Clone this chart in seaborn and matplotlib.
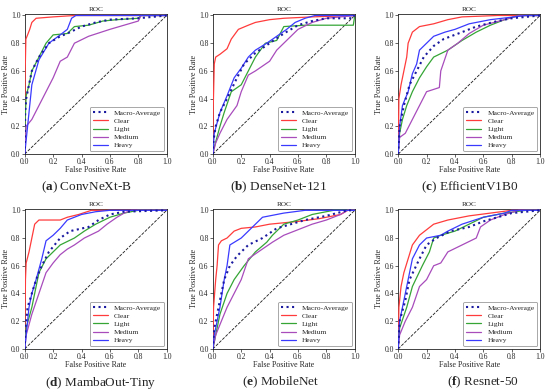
import numpy as np
import matplotlib
matplotlib.use("Agg")
import matplotlib.pyplot as plt
import seaborn as sns

# --- ROC points: (FPR, TPR) ---
classes = ["Macro-Average", "Clear", "Light", "Medium", "Heavy"]
models = ["ConvNeXt-B", "DenseNet-121", "EfficientV1B0", "MambaOut-Tiny", "MobileNet", "Resnet-50"]
letters = ["a", "b", "c", "d", "e", "f"]

a_macro = [(0, 0), (0.003, 0.3), (0.01, 0.4), (0.03, 0.5), (0.05, 0.6), (0.1, 0.7), (0.17, 0.8), (0.25, 0.85), (0.3, 0.87), (0.4, 0.92), (0.5, 0.95), (0.6, 0.97), (0.8, 0.98), (1, 1)]
a_clear = [(0, 0), (0.003, 0.6), (0.008, 0.83), (0.02, 0.86), (0.035, 0.9), (0.05, 0.95), (0.08, 0.98), (0.2, 0.99), (0.35, 1.0), (1, 1)]
a_light = [(0, 0), (0.003, 0.25), (0.01, 0.42), (0.03, 0.5), (0.05, 0.6), (0.1, 0.7), (0.15, 0.8), (0.2, 0.86), (0.3, 0.87), (0.35, 0.92), (0.45, 0.93), (0.55, 0.96), (0.65, 0.97), (0.8, 0.98), (0.82, 1.0), (1, 1)]
a_medium = [(0, 0), (0.01, 0.2), (0.05, 0.25), (0.1, 0.35), (0.15, 0.45), (0.2, 0.55), (0.25, 0.67), (0.3, 0.7), (0.35, 0.8), (0.45, 0.85), (0.6, 0.9), (0.7, 0.93), (0.8, 0.96), (0.82, 1.0), (1, 1)]
a_heavy = [(0, 0), (0.01, 0.1), (0.03, 0.3), (0.05, 0.5), (0.1, 0.68), (0.17, 0.8), (0.25, 0.86), (0.3, 0.9), (0.33, 0.98), (0.36, 1.0), (1, 1)]

b_macro = [(0, 0), (0.005, 0.1), (0.02, 0.2), (0.05, 0.3), (0.1, 0.4), (0.17, 0.55), (0.22, 0.65), (0.3, 0.73), (0.4, 0.8), (0.5, 0.87), (0.6, 0.93), (0.7, 0.96), (0.8, 0.98), (0.98, 0.98), (1, 1)]
b_clear = [(0, 0), (0.003, 0.35), (0.01, 0.65), (0.02, 0.7), (0.05, 0.72), (0.1, 0.76), (0.13, 0.83), (0.18, 0.9), (0.25, 0.93), (0.3, 0.95), (0.4, 0.97), (0.5, 0.98), (0.7, 0.99), (1, 1)]
b_light = [(0, 0), (0.01, 0.05), (0.05, 0.2), (0.08, 0.3), (0.13, 0.45), (0.2, 0.5), (0.25, 0.6), (0.3, 0.7), (0.37, 0.8), (0.45, 0.82), (0.5, 0.92), (0.65, 0.93), (0.99, 0.93), (1, 1)]
b_medium = [(0, 0), (0.02, 0.08), (0.05, 0.15), (0.1, 0.25), (0.17, 0.35), (0.2, 0.45), (0.25, 0.57), (0.3, 0.6), (0.4, 0.67), (0.45, 0.75), (0.5, 0.8), (0.55, 0.85), (0.6, 0.9), (0.7, 0.95), (0.8, 0.98), (1, 1)]
b_heavy = [(0, 0), (0.01, 0.15), (0.05, 0.3), (0.1, 0.42), (0.15, 0.55), (0.2, 0.62), (0.25, 0.7), (0.3, 0.75), (0.38, 0.8), (0.45, 0.85), (0.52, 0.9), (0.58, 0.95), (0.65, 0.98), (0.72, 1.0), (1, 1)]

c_macro = [(0, 0), (0.01, 0.2), (0.04, 0.35), (0.08, 0.5), (0.13, 0.6), (0.18, 0.7), (0.25, 0.78), (0.32, 0.83), (0.45, 0.88), (0.55, 0.92), (0.7, 0.96), (0.8, 0.98), (1, 1)]
c_clear = [(0, 0), (0.005, 0.4), (0.02, 0.5), (0.04, 0.6), (0.06, 0.7), (0.07, 0.8), (0.1, 0.88), (0.15, 0.92), (0.25, 0.94), (0.35, 0.97), (0.45, 0.99), (0.7, 1.0), (1, 1)]
c_light = [(0, 0), (0.01, 0.15), (0.03, 0.25), (0.06, 0.35), (0.1, 0.45), (0.15, 0.55), (0.2, 0.63), (0.25, 0.7), (0.35, 0.75), (0.45, 0.82), (0.55, 0.88), (0.65, 0.93), (0.75, 0.97), (0.85, 1.0), (1, 1)]
c_medium = [(0, 0), (0.01, 0.12), (0.05, 0.15), (0.1, 0.25), (0.15, 0.35), (0.2, 0.45), (0.29, 0.48), (0.3, 0.6), (0.35, 0.75), (0.42, 0.8), (0.5, 0.87), (0.6, 0.93), (0.75, 0.97), (0.85, 1.0), (1, 1)]
c_heavy = [(0, 0), (0.01, 0.2), (0.03, 0.35), (0.07, 0.45), (0.1, 0.58), (0.13, 0.65), (0.15, 0.75), (0.2, 0.8), (0.25, 0.85), (0.33, 0.88), (0.4, 0.9), (0.5, 0.94), (0.65, 0.97), (0.9, 1.0), (1, 1)]

d_macro = [(0, 0), (0.005, 0.15), (0.02, 0.3), (0.05, 0.4), (0.08, 0.5), (0.12, 0.6), (0.17, 0.7), (0.25, 0.8), (0.32, 0.85), (0.45, 0.88), (0.52, 0.93), (0.6, 0.97), (0.7, 0.99), (1, 1)]
d_clear = [(0, 0), (0.005, 0.5), (0.01, 0.62), (0.03, 0.7), (0.05, 0.8), (0.07, 0.9), (0.1, 0.93), (0.25, 0.93), (0.3, 0.95), (0.38, 0.97), (0.47, 1.0), (1, 1)]
d_light = [(0, 0), (0.01, 0.15), (0.05, 0.3), (0.08, 0.45), (0.1, 0.55), (0.15, 0.65), (0.2, 0.7), (0.25, 0.75), (0.35, 0.8), (0.42, 0.85), (0.5, 0.9), (0.6, 0.95), (0.7, 0.98), (0.8, 1.0), (1, 1)]
d_medium = [(0, 0), (0.01, 0.1), (0.05, 0.25), (0.1, 0.4), (0.15, 0.55), (0.2, 0.62), (0.25, 0.68), (0.3, 0.72), (0.35, 0.75), (0.42, 0.8), (0.52, 0.85), (0.58, 0.9), (0.65, 0.95), (0.7, 0.98), (0.75, 1.0), (1, 1)]
d_heavy = [(0, 0), (0.01, 0.1), (0.03, 0.3), (0.05, 0.4), (0.08, 0.5), (0.12, 0.65), (0.15, 0.78), (0.2, 0.82), (0.25, 0.87), (0.3, 0.93), (0.4, 0.97), (0.5, 0.99), (0.6, 1.0), (1, 1)]

e_macro = [(0, 0), (0.01, 0.15), (0.04, 0.3), (0.08, 0.5), (0.12, 0.6), (0.17, 0.67), (0.25, 0.75), (0.35, 0.8), (0.45, 0.87), (0.55, 0.9), (0.65, 0.93), (0.8, 0.96), (0.95, 1.0), (1, 1)]
e_clear = [(0, 0), (0.005, 0.3), (0.02, 0.5), (0.03, 0.6), (0.04, 0.75), (0.06, 0.78), (0.1, 0.8), (0.15, 0.85), (0.2, 0.87), (0.3, 0.88), (0.4, 0.9), (0.5, 0.91), (0.6, 0.92), (0.75, 0.94), (0.9, 0.97), (0.95, 1.0), (1, 1)]
e_light = [(0, 0), (0.02, 0.1), (0.05, 0.25), (0.1, 0.4), (0.15, 0.5), (0.22, 0.6), (0.3, 0.7), (0.38, 0.77), (0.42, 0.82), (0.5, 0.9), (0.6, 0.93), (0.7, 0.97), (0.85, 1.0), (1, 1)]
e_medium = [(0, 0), (0.02, 0.1), (0.06, 0.2), (0.1, 0.3), (0.15, 0.4), (0.2, 0.5), (0.25, 0.65), (0.32, 0.7), (0.42, 0.77), (0.5, 0.82), (0.6, 0.86), (0.7, 0.9), (0.8, 0.93), (0.9, 0.97), (0.95, 1.0), (1, 1)]
e_heavy = [(0, 0), (0.01, 0.1), (0.05, 0.3), (0.08, 0.5), (0.1, 0.6), (0.12, 0.75), (0.2, 0.8), (0.25, 0.85), (0.3, 0.9), (0.35, 0.95), (0.5, 0.98), (0.65, 1.0), (1, 1)]

f_macro = [(0, 0), (0.01, 0.2), (0.05, 0.35), (0.08, 0.5), (0.15, 0.65), (0.2, 0.75), (0.27, 0.8), (0.37, 0.85), (0.5, 0.88), (0.6, 0.92), (0.7, 0.95), (0.8, 0.98), (1, 1)]
f_clear = [(0, 0), (0.005, 0.3), (0.02, 0.45), (0.04, 0.55), (0.07, 0.65), (0.1, 0.75), (0.15, 0.82), (0.2, 0.86), (0.25, 0.9), (0.35, 0.93), (0.5, 0.96), (0.65, 0.98), (0.8, 1.0), (1, 1)]
f_light = [(0, 0), (0.01, 0.15), (0.06, 0.3), (0.1, 0.45), (0.17, 0.6), (0.22, 0.7), (0.25, 0.8), (0.3, 0.82), (0.4, 0.85), (0.5, 0.9), (0.6, 0.95), (0.75, 0.98), (0.9, 1.0), (1, 1)]
f_medium = [(0, 0), (0.01, 0.1), (0.05, 0.2), (0.1, 0.3), (0.15, 0.45), (0.2, 0.5), (0.25, 0.6), (0.3, 0.62), (0.35, 0.7), (0.45, 0.75), (0.55, 0.8), (0.58, 0.88), (0.65, 0.93), (0.75, 0.97), (0.85, 1.0), (1, 1)]
f_heavy = [(0, 0), (0.01, 0.2), (0.05, 0.4), (0.08, 0.55), (0.1, 0.65), (0.15, 0.75), (0.2, 0.8), (0.3, 0.82), (0.35, 0.85), (0.45, 0.9), (0.6, 0.95), (0.75, 0.98), (0.8, 1.0), (1, 1)]

curves = [
    [a_macro, a_clear, a_light, a_medium, a_heavy],
    [b_macro, b_clear, b_light, b_medium, b_heavy],
    [c_macro, c_clear, c_light, c_medium, c_heavy],
    [d_macro, d_clear, d_light, d_medium, d_heavy],
    [e_macro, e_clear, e_light, e_medium, e_heavy],
    [f_macro, f_clear, f_light, f_medium, f_heavy],
]

# --- styling ---
sns.set_theme(style="white")
plt.rcParams["font.family"] = ["Liberation Serif", "DejaVu Serif"]
plt.rcParams["mathtext.fontset"] = "custom"
plt.rcParams["mathtext.bf"] = "Liberation Serif:bold"
plt.rcParams["mathtext.rm"] = "Liberation Serif"

colors = ["#1a1aa0", "#ff3b3b", "#35a535", "#a84cbc", "#3a3aff"]
styles = [":", "-", "-", "-", "-"]
widths = [1.5, 0.9, 0.9, 0.9, 0.9]

fig = plt.figure(figsize=(5.5, 3.92), dpi=100)

# axes boxes in figure fractions
lefts = [0.045, 0.387, 0.724]
bottoms = [0.607, 0.110]
cap_x = [0.157, 0.506, 0.855, 0.182, 0.511, 0.878]
cap_y = [0.523, 0.523, 0.523, 0.024, 0.024, 0.024]

for i, (model, letter) in enumerate(zip(models, letters)):
    ax = fig.add_axes([lefts[i % 3], bottoms[i // 3], 0.258, 0.357])
    ax.plot([0, 1], [0, 1], "k--", lw=0.6)
    for j, cls in enumerate(classes):
        pts = np.array(curves[i][j])
        sns.lineplot(x=pts[:, 0], y=pts[:, 1], ax=ax, sort=False, estimator=None,
                     color=colors[j], linestyle=styles[j], lw=widths[j], label=cls,
                     zorder=5 if j == 0 else 3)
    ax.set_xlim(0, 1)
    ax.set_ylim(0, 1.01)
    ax.set_xticks(np.arange(0, 1.01, 0.2))
    ax.set_yticks(np.arange(0, 1.01, 0.2))
    ax.tick_params(labelsize=5.5, length=2, width=0.5, pad=1, bottom=True, left=True)
    for sp in ax.spines.values():
        sp.set_linewidth(0.6)
        sp.set_color("#222222")
    ax.set_title("ROC", fontsize=5.2, pad=2)
    ax.set_xlabel("False Positive Rate", fontsize=5.8, labelpad=0)
    ax.set_ylabel("True Positive Rate", fontsize=5.8, labelpad=1)
    leg = ax.legend(loc="lower right", fontsize=5.4, handlelength=2.0, labelspacing=0.25,
                    borderpad=0.4, handletextpad=0.8, borderaxespad=0.35,
                    frameon=True, fancybox=True)
    leg.get_frame().set_linewidth(0.6)
    leg.get_frame().set_edgecolor("#808080")
    fig.text(cap_x[i], cap_y[i], r"($\mathbf{" + letter + r"}$) " + model,
             ha="center", va="center", fontsize=9.5)

fig.savefig("out.png", dpi=100)
